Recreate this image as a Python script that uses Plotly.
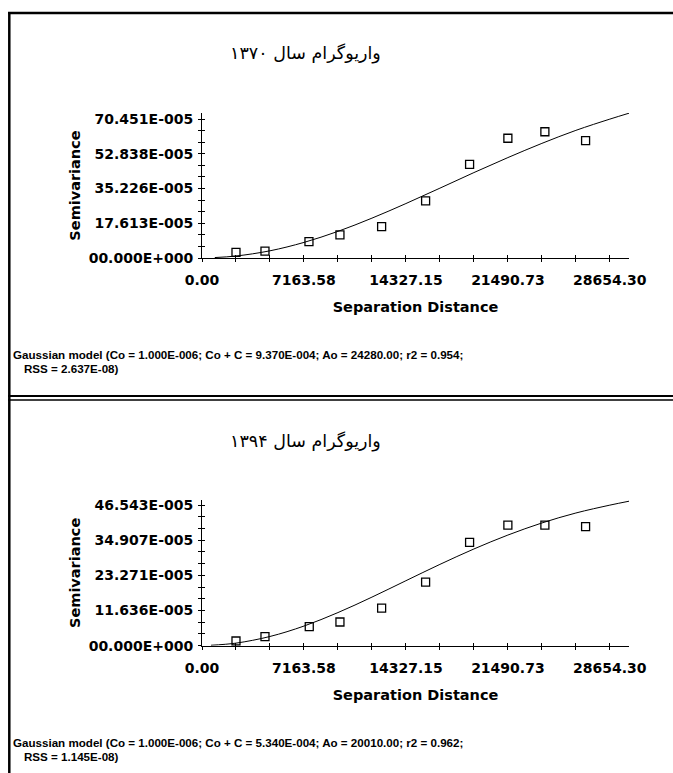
import plotly.graph_objects as go

W, H = 673, 773

# ---------------- data ----------------
# Panel 1 (year 1370)
lag_1370 = [2388, 4425, 7515, 9692, 12620, 15710, 18800, 21490, 24090, 26950]
semi_1370 = [2.9e-5, 3.5e-5, 8.3e-5, 11.7e-5, 15.9e-5, 29.0e-5, 47.5e-5, 60.7e-5, 64.0e-5, 59.5e-5]
model_lag_1370 = [900, 2388, 4776, 7164, 9552, 11940, 14327, 16715, 19103, 21491, 23879, 26267, 28654, 30000]
model_1370 = [0.23e-5, 1.0e-5, 3.65e-5, 7.9e-5, 13.5e-5, 20.2e-5, 27.6e-5, 35.4e-5, 43.3e-5,
              50.9e-5, 58.1e-5, 64.7e-5, 70.4e-5, 73.4e-5]

# Panel 2 (year 1394)
lag_1394 = [2388, 4425, 7536, 9692, 12620, 15710, 18800, 21490, 24090, 26950]
semi_1394 = [1.55e-5, 2.98e-5, 6.29e-5, 7.84e-5, 12.4e-5, 21.0e-5, 34.2e-5, 39.9e-5, 39.9e-5, 39.4e-5]
model_lag_1394 = [630, 2388, 4776, 7164, 9552, 11940, 14327, 16715, 19103, 21491, 23879, 26267, 28654, 30000]
model_1394 = [0.15e-5, 0.85e-5, 3.05e-5, 6.5e-5, 10.96e-5, 16.07e-5, 21.5e-5, 26.9e-5, 32.0e-5,
              36.6e-5, 40.6e-5, 43.9e-5, 46.5e-5, 47.8e-5]

# tick values / labels
x_tickvals = [0.0, 7163.58, 14327.15, 21490.73, 28654.30]
x_ticktext = ["0.00", "7163.58", "14327.15", "21490.73", "28654.30"]
x_minor_step = 7163.58 / 3

y1_tickvals = [0.0, 17.613e-5, 35.226e-5, 52.838e-5, 70.451e-5]
y1_ticktext = ["00.000E+000", "17.613E-005", "35.226E-005", "52.838E-005", "70.451E-005"]
y2_tickvals = [0.0, 11.636e-5, 23.271e-5, 34.907e-5, 46.543e-5]
y2_ticktext = ["00.000E+000", "11.636E-005", "23.271E-005", "34.907E-005", "46.543E-005"]

titles = ["واریوگرام سال ۱۳۷۰", "واریوگرام سال ۱۳۹۴"]
footer1 = ["Gaussian model (Co = 1.000E-006; Co + C = 9.370E-004; Ao = 24280.00; r2 = 0.954;",
           "RSS = 2.637E-08)"]
footer2 = ["Gaussian model (Co = 1.000E-006; Co + C = 5.340E-004; Ao = 20010.00; r2 = 0.962;",
           "RSS = 1.145E-08)"]

x_range = [0, 30000]
y1_range = [0, 73.5e-5]
y2_range = [0, 48.2e-5]

# ---------------- helpers ----------------
def px_x(p):
    return p / W

def px_y(p):
    return 1 - p / H

tickfont = dict(family="DejaVu Sans", size=14, color="black", weight="bold")
titlefont = dict(family="DejaVu Sans", size=14.5, color="black", weight="bold")

def minor_list(top, step):
    vals = []
    v = 0.0
    while v <= top * 1.0001:
        vals.append(v)
        v += step
    return vals

x_minor = minor_list(x_range[1], x_minor_step)
y1_minor = minor_list(y1_range[1], y1_tickvals[1] / 3)
y2_minor = minor_list(y2_range[1], y2_tickvals[1] / 3)

xdom = [px_x(202), px_x(629)]
y1dom = [px_y(258), px_y(113)]
y2dom = [px_y(645.7), px_y(500)]

fig = go.Figure()

for (lag, semi, mlag, mod, xa, ya) in [
    (lag_1370, semi_1370, model_lag_1370, model_1370, "x", "y"),
    (lag_1394, semi_1394, model_lag_1394, model_1394, "x2", "y2"),
]:
    fig.add_trace(go.Scatter(x=mlag, y=mod, mode="lines", xaxis=xa, yaxis=ya,
                             line=dict(color="black", width=1, shape="spline"),
                             showlegend=False, hoverinfo="skip"))
    fig.add_trace(go.Scatter(x=lag, y=semi, mode="markers", xaxis=xa, yaxis=ya,
                             marker=dict(symbol="square-open", size=8, color="black",
                                         line=dict(width=1.3, color="black")),
                             showlegend=False))

# empty traces to activate overlay (inside tick) axes
fig.add_trace(go.Scatter(x=[None], y=[None], xaxis="x3", yaxis="y3", showlegend=False))
fig.add_trace(go.Scatter(x=[None], y=[None], xaxis="x4", yaxis="y4", showlegend=False))

def xaxis_main(anchor, dom):
    return dict(domain=dom, anchor=anchor, range=x_range, showline=True, linecolor="black",
                linewidth=1, showgrid=False, zeroline=False, tickmode="array", automargin=False,
                tickvals=x_tickvals, ticktext=x_ticktext, ticks="outside", ticklen=3,
                tickcolor="black", tickwidth=1, tickfont=tickfont, ticklabelstandoff=6,
                minor=dict(tickmode="array", tickvals=x_minor, ticks="outside", ticklen=3,
                           tickcolor="black", tickwidth=1, showgrid=False),
                title=dict(text="Separation Distance", font=titlefont, standoff=15))

def yaxis_main(anchor, dom, rng, tv, tt, mn):
    return dict(domain=dom, anchor=anchor, range=rng, showline=True, linecolor="black",
                linewidth=1, showgrid=False, zeroline=False, tickmode="array", automargin=False,
                tickvals=tv, ticktext=tt, ticks="outside", ticklen=3, tickcolor="black",
                tickwidth=1, tickfont=tickfont, ticklabelstandoff=2,
                minor=dict(tickmode="array", tickvals=mn, ticks="outside", ticklen=3,
                           tickcolor="black", tickwidth=1, showgrid=False),
                title=dict(text="Semivariance", font=titlefont, standoff=4))

def xaxis_over(over, anchor):
    return dict(overlaying=over, anchor=anchor, range=x_range, showline=False, showgrid=False,
                zeroline=False, tickmode="array", tickvals=x_tickvals, ticks="inside",
                ticklen=3, tickcolor="black", tickwidth=1, showticklabels=False, automargin=False,
                minor=dict(tickmode="array", tickvals=x_minor, ticks="inside", ticklen=3,
                           tickcolor="black", tickwidth=1, showgrid=False))

def yaxis_over(over, anchor, rng, tv, mn):
    return dict(overlaying=over, anchor=anchor, range=rng, showline=False, showgrid=False,
                zeroline=False, tickmode="array", tickvals=tv, ticks="inside", automargin=False,
                ticklen=3, tickcolor="black", tickwidth=1, showticklabels=False,
                minor=dict(tickmode="array", tickvals=mn, ticks="inside", ticklen=3,
                           tickcolor="black", tickwidth=1, showgrid=False))

annotations = []
for title, ty in zip(titles, [53, 441]):
    annotations.append(dict(text=title, x=px_x(305), y=px_y(ty), xref="paper", yref="paper",
                            xanchor="center", yanchor="middle", showarrow=False,
                            font=dict(family="DejaVu Sans", size=17.5, color="black")))

footfont = dict(family="Liberation Sans", size=11.6, color="black", weight="bold")
for foot, fy in [(footer1, 354), (footer2, 742)]:
    annotations.append(dict(text=foot[0], x=px_x(11), y=px_y(fy), xref="paper", yref="paper",
                            xanchor="left", yanchor="middle", showarrow=False, font=footfont))
    annotations.append(dict(text=foot[1], x=px_x(22), y=px_y(fy + 14), xref="paper",
                            yref="paper", xanchor="left", yanchor="middle", showarrow=False,
                            font=footfont))

shapes = [
    # top border
    dict(type="line", xref="paper", yref="paper", x0=px_x(8), x1=1, y0=px_y(13), y1=px_y(13),
         line=dict(color="black", width=2.5)),
    # left border
    dict(type="line", xref="paper", yref="paper", x0=px_x(9.3), x1=px_x(9.3), y0=px_y(12), y1=0,
         line=dict(color="black", width=2.5)),
    # double separator
    dict(type="line", xref="paper", yref="paper", x0=px_x(8), x1=1, y0=px_y(396), y1=px_y(396),
         line=dict(color="black", width=2.2)),
    dict(type="line", xref="paper", yref="paper", x0=px_x(8), x1=1, y0=px_y(400), y1=px_y(400),
         line=dict(color="black", width=1.3)),
]

fig.update_layout(
    template="none",
    width=W, height=H, autosize=False,
    margin=dict(l=0, r=0, t=0, b=0, pad=0),
    paper_bgcolor="white", plot_bgcolor="white",
    xaxis=xaxis_main("y", xdom),
    yaxis=yaxis_main("x", y1dom, y1_range, y1_tickvals, y1_ticktext, y1_minor),
    xaxis2=xaxis_main("y2", xdom),
    yaxis2=yaxis_main("x2", y2dom, y2_range, y2_tickvals, y2_ticktext, y2_minor),
    xaxis3=xaxis_over("x", "y3"),
    yaxis3=yaxis_over("y", "x3", y1_range, y1_tickvals, y1_minor),
    xaxis4=xaxis_over("x2", "y4"),
    yaxis4=yaxis_over("y2", "x4", y2_range, y2_tickvals, y2_minor),
    annotations=annotations,
    shapes=shapes,
    showlegend=False,
)

fig.write_html("out.html", config={"displayModeBar": False},
               post_script="document.body.style.margin='0';")
